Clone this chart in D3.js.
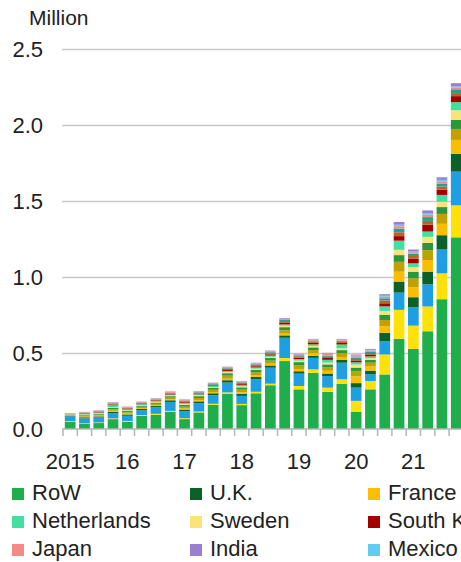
<!DOCTYPE html>
<html>
<head>
<meta charset="utf-8">
<script src="https://cdn.jsdelivr.net/npm/d3@7"></script>
<style>
  body { margin: 0; background: #fff; }
  text { font-family: "Liberation Sans", Arial, sans-serif; fill: #222; }
</style>
</head>
<body>
<script>
// quarters, 2015 Q1 .. 2021 Q4
var quarters = ["15Q1","15Q2","15Q3","15Q4","16Q1","16Q2","16Q3","16Q4","17Q1","17Q2","17Q3","17Q4",
                "18Q1","18Q2","18Q3","18Q4","19Q1","19Q2","19Q3","19Q4","20Q1","20Q2","20Q3","20Q4",
                "21Q1","21Q2","21Q3","21Q4"];
// year labels sit under the first quarter of each year
var yearLabels = {"15Q1": "2015", "16Q1": "16", "17Q1": "17", "18Q1": "18", "19Q1": "19", "20Q1": "20", "21Q1": "21"};
var yTicks = [0, 0.5, 1.0, 1.5, 2.0, 2.5];

// series values, million units (bottom of stack first)
var rowSales     = [.048,.033,.039,.065,.048,.087,.094,.113,.065,.109,.159,.233,.157,.235,.288,.447,.261,.370,.244,.298,.113,.261,.359,.593,.527,.643,.854,1.261];
var germany      = [.004,.004,.004,.005,.005,.005,.006,.006,.006,.006,.007,.008,.008,.010,.010,.020,.022,.022,.028,.029,.072,.055,.131,.191,.153,.163,.170,.210];
var us           = [.031,.033,.033,.033,.034,.032,.042,.059,.045,.055,.056,.064,.053,.082,.105,.133,.081,.076,.076,.109,.087,.043,.087,.113,.122,.146,.157,.222];
var uk           = [.003,.007,.007,.010,.009,.008,.009,.011,.012,.012,.013,.016,.014,.015,.015,.016,.016,.015,.017,.018,.030,.025,.055,.073,.065,.083,.094,.117];
var france       = [.002,.004,.005,.007,.006,.006,.006,.007,.007,.008,.008,.010,.010,.010,.012,.012,.015,.016,.018,.020,.045,.030,.045,.065,.066,.076,.075,.092];
var norway       = [.003,.005,.006,.010,.008,.008,.009,.010,.012,.014,.015,.020,.017,.020,.020,.022,.025,.020,.022,.025,.035,.022,.040,.065,.057,.065,.065,.072];
var canada       = [.003,.005,.006,.009,.008,.008,.008,.010,.012,.012,.012,.016,.015,.017,.017,.020,.020,.018,.020,.020,.022,.018,.035,.044,.045,.048,.045,.059];
var sweden       = [.002,.004,.004,.005,.005,.004,.005,.005,.006,.006,.006,.007,.007,.008,.008,.010,.010,.010,.012,.012,.020,.012,.025,.035,.030,.040,.035,.064];
var netherlands  = [.002,.004,.004,.012,.007,.005,.005,.006,.008,.006,.006,.008,.007,.008,.008,.008,.010,.010,.018,.025,.015,.012,.030,.060,.025,.035,.045,.053];
var southKorea   = [.001,.003,.003,.004,.004,.004,.004,.004,.005,.005,.005,.006,.007,.008,.008,.010,.010,.010,.012,.010,.012,.012,.020,.030,.030,.045,.035,.040];
var spain        = [.001,.003,.003,.005,.004,.004,.004,.005,.005,.005,.005,.007,.007,.007,.008,.012,.008,.008,.008,.008,.010,.010,.018,.025,.018,.025,.020,.020];
var italy        = [.001,.002,.003,.004,.003,.003,.003,.003,.004,.004,.004,.005,.005,.006,.006,.008,.007,.007,.008,.007,.010,.010,.015,.025,.015,.025,.020,.025];
var japan        = [.002,.004,.005,.006,.005,.005,.005,.006,.006,.005,.006,.007,.006,.006,.006,.006,.006,.007,.012,.006,.008,.007,.010,.015,.010,.015,.012,.010];
var mexico       = [.001,.001,.001,.001,.001,.001,.001,.001,.001,.001,.001,.001,.001,.001,.001,.001,.001,.001,.002,.002,.004,.004,.007,.010,.008,.012,.012,.010];
var india        = [.001,.001,.001,.002,.001,.001,.002,.002,.002,.002,.002,.002,.002,.003,.004,.005,.003,.003,.004,.004,.007,.006,.010,.018,.010,.017,.017,.020];

var seriesNames  = ["RoW","Germany","U.S.","U.K.","France","Norway","Canada","Sweden","Netherlands",
                    "South Korea","Spain","Italy","Japan","Mexico","India"];
var seriesValues = [rowSales, germany, us, uk, france, norway, canada, sweden, netherlands,
                    southKorea, spain, italy, japan, mexico, india];
var seriesColors = ["#20ad4b","#ffe10a","#1e9fe2","#0c6128","#fbbd00","#c1a100","#2a973b","#f8e479","#43dfa0",
                    "#a50000","#b8632a","#2b9d92","#f28a86","#62ccf0","#9a7fd0"];
// only the legend entries that show inside the page, three per row
var legendOrder  = ["RoW","U.K.","France",
                    "Netherlands","Sweden","South Korea",
                    "Japan","India","Mexico"];

var table = quarters.map(function (q, i) {
  var row = {quarter: q};
  seriesNames.forEach(function (n, k) { row[n] = seriesValues[k][i]; });
  return row;
});

var svg = d3.select("body").append("svg")
            .attr("width", 461)
            .attr("height", 562);

var x = d3.scaleBand().domain(quarters).range([63, 463.4]).paddingInner(0.25).paddingOuter(0.125);
var y = d3.scaleLinear().domain([0, 2.5]).range([429, 49]);
var color = d3.scaleOrdinal().domain(seriesNames).range(seriesColors);

// gridlines + y labels
var yAxis = svg.append("g")
  .attr("transform", "translate(62,0)")
  .call(d3.axisLeft(y).tickValues(yTicks).tickFormat(d3.format(".1f")).tickSize(-400).tickPadding(19));
yAxis.select(".domain").remove();
yAxis.selectAll(".tick line").attr("stroke", "#c9c9c9").attr("stroke-width", 1.5)
  .filter(function (d) { return d === 0; }).remove();
yAxis.selectAll(".tick text").attr("font-size", 22).attr("fill", "#222")
  .style("font-family", "'Liberation Sans', Arial, sans-serif");

svg.append("text").attr("x", 29).attr("y", 25).attr("font-size", 21).text("Million");

// stacked bars
var stacked = d3.stack().keys(seriesNames)(table);
svg.append("g").selectAll("g").data(stacked).enter().append("g")
  .attr("fill", function (d) { return color(d.key); })
  .selectAll("rect").data(function (d) { return d; }).enter().append("rect")
  .attr("x", function (d) { return x(d.data.quarter); })
  .attr("width", x.bandwidth())
  .attr("y", function (d) { return y(d[1]); })
  .attr("height", function (d) { return y(d[0]) - y(d[1]); });

// x axis: baseline, ticks between quarters, year labels
var gap = (x.step() - x.bandwidth()) / 2;
var bounds = quarters.map(function (q) { return x(q) - gap; });
bounds.push(x(quarters[quarters.length - 1]) + x.bandwidth() + gap);
var xg = svg.append("g");
xg.append("line").attr("x1", 62).attr("x2", 461).attr("y1", y(0)).attr("y2", y(0))
  .attr("stroke", "#b5b5b5").attr("stroke-width", 1.5);
xg.selectAll("line.tk").data(bounds).enter().append("line").attr("class", "tk")
  .attr("x1", function (d) { return d; }).attr("x2", function (d) { return d; })
  .attr("y1", y(0)).attr("y2", y(0) + 7)
  .attr("stroke", "#b5b5b5").attr("stroke-width", 1.5);
xg.selectAll("text").data(quarters.filter(function (q) { return yearLabels[q]; })).enter().append("text")
  .attr("x", function (q) { return x(q) + x.bandwidth() / 2; })
  .attr("y", 469)
  .attr("text-anchor", "middle")
  .attr("font-size", 22)
  .text(function (q) { return yearLabels[q]; });

// legend
var legend = svg.append("g").selectAll("g").data(legendOrder).enter().append("g")
  .attr("transform", function (d, i) {
    return "translate(" + (12 + (i % 3) * 178) + "," + (500 + Math.floor(i / 3) * 28) + ")";
  });
legend.append("rect").attr("x", 0).attr("y", -12).attr("width", 12).attr("height", 12)
  .attr("fill", function (d) { return color(d); });
legend.append("text").attr("x", 20).attr("y", 0).attr("font-size", 22).text(function (d) { return d; });
</script>
</body>
</html>
